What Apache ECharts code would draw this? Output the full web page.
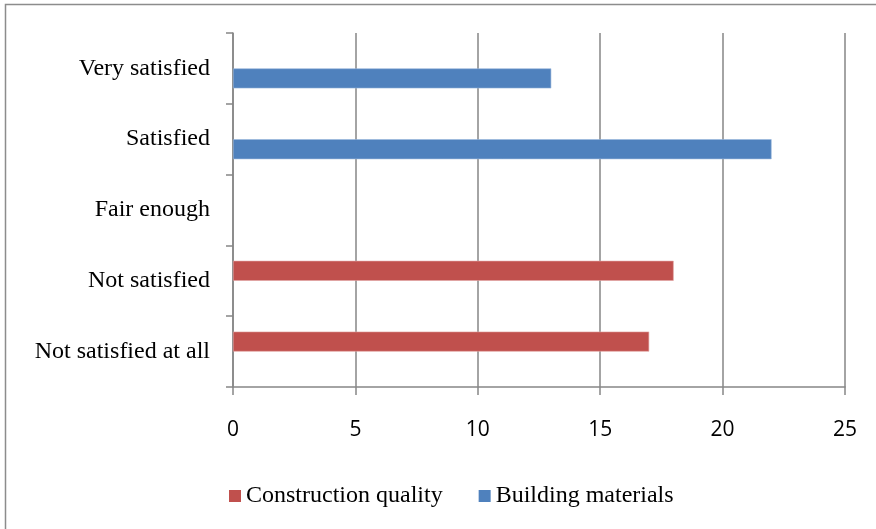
<!DOCTYPE html>
<html>
<head>
<meta charset="utf-8">
<script src="https://cdn.jsdelivr.net/npm/echarts@6/dist/echarts.min.js"></script>
<style>
  html, body { margin: 0; padding: 0; background: #fff; }
  #chart { width: 876px; height: 529px; }
</style>
</head>
<body>
<div id="chart"></div>
<script>
// Satisfaction levels, listed bottom to top as on the category axis
const categories = ['Not satisfied at all', 'Not satisfied', 'Fair enough', 'Satisfied', 'Very satisfied'];
const constructionQuality = [17, 18, '-', '-', '-'];
const buildingMaterials = ['-', '-', '-', 22, 13];
const valueTicks = [0, 5, 10, 15, 20, 25];

const serif = '"Liberation Serif", "Times New Roman", serif';
const sans = '"Open Sans", "Liberation Sans", sans-serif';
const gridGray = '#868686';

const chart = echarts.init(document.getElementById('chart'));
chart.setOption({
  animation: false,
  backgroundColor: '#fff',
  graphic: [{
    type: 'rect',
    shape: { x: 5.5, y: 4.5, width: 1000, height: 1000 },
    style: { fill: 'none', stroke: '#8c8c8c', lineWidth: 1.5 },
    silent: true
  }],
  legend: {
    data: ['Construction quality', 'Building materials'],
    left: 229,
    top: 484,
    padding: 0,
    itemWidth: 12,
    itemHeight: 12,
    itemGap: 36,
    icon: 'rect',
    itemStyle: { borderWidth: 0 },
    textStyle: { fontFamily: serif, fontSize: 24, color: '#000' }
  },
  grid: { left: 233, right: 31, top: 33, bottom: 142, containLabel: false },
  xAxis: {
    type: 'value',
    min: valueTicks[0],
    max: valueTicks[valueTicks.length - 1],
    interval: 5,
    axisLine: { show: true, lineStyle: { color: gridGray, width: 1.5 } },
    axisTick: { show: true, length: 8, lineStyle: { color: gridGray, width: 1.5 } },
    splitLine: { show: true, lineStyle: { color: gridGray, width: 1.5 } },
    axisLabel: { margin: 33, fontFamily: sans, fontSize: 21, color: '#000' }
  },
  yAxis: {
    type: 'category',
    data: categories,
    axisLine: { show: true, lineStyle: { color: gridGray, width: 1.5 } },
    axisTick: { show: true, length: 7, lineStyle: { color: gridGray, width: 1.5 } },
    splitLine: { show: false },
    axisLabel: { margin: 23, fontFamily: serif, fontSize: 24, color: '#000' }
  },
  series: [
    {
      name: 'Construction quality',
      type: 'bar',
      data: constructionQuality,
      barWidth: 20,
      barGap: '0%',
      itemStyle: { color: '#C0504D', borderColor: '#e0a3a1', borderWidth: 0.6 }
    },
    {
      name: 'Building materials',
      type: 'bar',
      data: buildingMaterials,
      barWidth: 20,
      barGap: '0%',
      itemStyle: { color: '#4F81BD', borderColor: '#9bb7dc', borderWidth: 0.6 }
    }
  ]
});
</script>
</body>
</html>
